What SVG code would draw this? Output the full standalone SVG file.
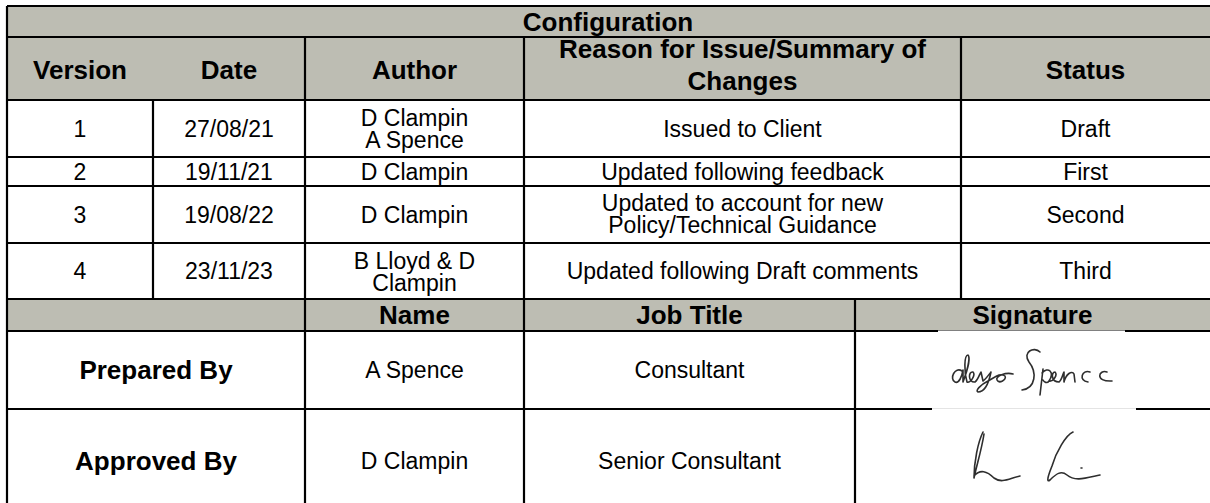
<svg xmlns="http://www.w3.org/2000/svg" width="1210" height="503" viewBox="0 0 1210 503">
<style>
.hd{fill:#bdbdb3}
.ln{stroke:#000;stroke-width:2.2;fill:none}
text{font-family:"Liberation Sans",Arial,sans-serif;fill:#000;text-anchor:middle}
.b{font-weight:bold;font-size:26px}
.r{font-size:23px}
.sig{stroke:#2e2e2e;stroke-width:1.6;fill:none;stroke-linecap:round;stroke-linejoin:round}
</style>
<rect width="1210" height="503" fill="#fff"/>
<g id="fills">
<rect class="hd" x="7" y="6" width="1203" height="94"/>
<rect class="hd" x="7" y="299" width="1203" height="32"/>
</g>
<g id="grid">
<path class="ln" d="M7,6H1210M7,37H1210M7,100H1210M7,157H1210M7,186H1210M7,243H1210M7,299H1210M7,331H1210M7,409H1210"/>
<path class="ln" d="M7,6V503M153,100V299M305,37V503M524,37V503M961,37V299M855,299V503"/>
</g>
<g id="sig-cover">
<rect x="938" y="330.5" width="187" height="74" fill="#fff"/>
<rect x="932" y="408" width="204" height="92" fill="#fff"/>
<path d="M932,408.5H1136" stroke="#e4e4e4" stroke-width="1"/>
</g>
<g id="title"><text class="b" x="608" y="31">Configuration</text></g>
<g id="header">
<text class="b" x="80" y="79">Version</text>
<text class="b" x="229" y="79">Date</text>
<text class="b" x="414.5" y="79">Author</text>
<text class="b" x="742.5" y="58">Reason for Issue/Summary of</text>
<text class="b" x="742.5" y="90">Changes</text>
<text class="b" x="1085.5" y="79">Status</text>
</g>
<g id="row1">
<text class="r" x="80" y="137">1</text>
<text class="r" x="229" y="137">27/08/21</text>
<text class="r" x="414.5" y="125.5">D Clampin</text>
<text class="r" x="414.5" y="148">A Spence</text>
<text class="r" x="742.5" y="137">Issued to Client</text>
<text class="r" x="1085.5" y="137">Draft</text>
</g>
<g id="row2">
<text class="r" x="80" y="179.7">2</text>
<text class="r" x="229" y="179.7">19/11/21</text>
<text class="r" x="414.5" y="179.7">D Clampin</text>
<text class="r" x="742.5" y="179.7">Updated following feedback</text>
<text class="r" x="1085.5" y="179.7">First</text>
</g>
<g id="row3">
<text class="r" x="80" y="222.7">3</text>
<text class="r" x="229" y="222.7">19/08/22</text>
<text class="r" x="414.5" y="222.7">D Clampin</text>
<text class="r" x="742.5" y="210.5">Updated to account for new</text>
<text class="r" x="742.5" y="233">Policy/Technical Guidance</text>
<text class="r" x="1085.5" y="222.7">Second</text>
</g>
<g id="row4">
<text class="r" x="80" y="279">4</text>
<text class="r" x="229" y="279">23/11/23</text>
<text class="r" x="414.5" y="268.5">B Lloyd &amp; D</text>
<text class="r" x="414.5" y="291">Clampin</text>
<text class="r" x="742.5" y="279">Updated following Draft comments</text>
<text class="r" x="1085.5" y="279">Third</text>
</g>
<g id="sign-header">
<text class="b" x="414.5" y="324">Name</text>
<text class="b" x="689.5" y="324">Job Title</text>
<text class="b" x="1032.5" y="324">Signature</text>
</g>
<g id="prepared">
<text class="b" x="156" y="379">Prepared By</text>
<text class="r" x="414.5" y="378">A Spence</text>
<text class="r" x="689.5" y="378">Consultant</text>
<path class="sig" d="M962,371 C955,366 949,379 955,382 C959,384 962,376 963,370 L963,382 C966,374 971,358 968,355 C964,355 964,372 967,382 C970,384 976,375 973,372 C968,371 968,383 975,382 C978,380 980,373 981,372 L983,381 C986,379 990,373 991,372 C989,382 985,392 978,392 C975,391 980,385 988,381 C994,378 1000,372 1005,376 C1007,380 999,384 997,380 C995,376 1006,372 1013,374"/>
<path class="sig" d="M1040,352 C1034,346 1022,352 1029,362 C1037,372 1036,388 1022,390"/>
<path class="sig" d="M1043,369 L1040,395 M1042,373 C1048,366 1055,372 1049,381 C1047,384 1044,382 1043,380 M1049,381 C1053,382 1058,375 1055,372 C1051,372 1051,382 1059,382 C1062,380 1063,373 1064,372 L1064,382 C1066,374 1072,370 1074,374 L1075,382 M1090,372 C1082,369 1078,381 1088,382 M1107,372 C1099,369 1094,382 1112,381"/>
</g>
<g id="approved">
<text class="b" x="156" y="470">Approved By</text>
<text class="r" x="414.5" y="469">D Clampin</text>
<text class="r" x="689.5" y="469">Senior Consultant</text>
<path class="sig" d="M983,432 C978,442 974,462 974,478 C976,468 982,448 984,434 M974,476 C980,469 987,471 994,478 C1002,484 1010,478 1020,476"/>
<path class="sig" d="M1073,432 C1066,435 1056,452 1052,466 C1048,476 1046,483 1050,480 C1056,474 1061,470 1067,475 C1075,482 1086,478 1100,475 M1081,468 L1082,468"/>
</g>
</svg>
